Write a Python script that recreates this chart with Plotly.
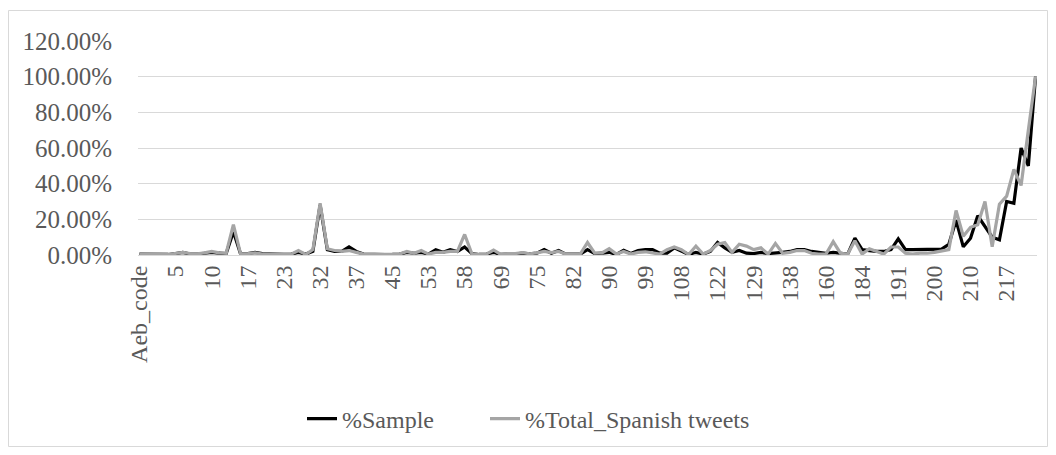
import plotly.graph_objects as go

codes = ["Aeb_code",
         "1", "2", "3", "4", "5",
         "6", "7", "8", "9", "10",
         "11", "12", "14", "16", "17",
         "18", "19", "20", "22", "23",
         "25", "27", "29", "30", "32",
         "33", "34", "35", "36", "37",
         "38", "40", "41", "43", "45",
         "46", "48", "50", "51", "53",
         "54", "55", "56", "57", "58",
         "60", "62", "64", "67", "69",
         "70", "71", "72", "74", "75",
         "76", "78", "79", "80", "82",
         "83", "85", "86", "88", "90",
         "91", "93", "95", "97", "99",
         "100", "102", "104", "106", "108",
         "110", "113", "116", "119", "122",
         "123", "124", "126", "127", "129",
         "130", "132", "134", "136", "138",
         "142", "147", "151", "155", "160",
         "165", "170", "175", "180", "184",
         "185", "186", "188", "189", "191",
         "193", "195", "197", "198", "200",
         "202", "204", "206", "208", "210",
         "211", "212", "214", "215", "217",
         "218", "219", "220", "221"]

tick_labels = ["Aeb_code", "5", "10", "17", "23", "32", "37", "45", "53", "58",
               "69", "75", "82", "90", "99", "108", "122", "129", "138", "160",
               "184", "191", "200", "210", "217"]

pct_sample = [0.5, 0.5, 0.7, 0.4, 0.3, 0.8, 1.5, 0.5, 0.5, 1.0, 1.5, 1.0, 0.8,
              13,
              0.5, 0.8, 1.5, 0.8, 0.5, 0.3, 0.3, 0.5, 1.5, 0.5, 2.0,
              28,
              3, 2, 2, 4.5, 2, 0.5, 0.3, 0.3, 0.2, 0.3, 0.5,
              1.5, 1, 1.5, 0.5, 3, 1.5, 3, 2,
              4.5,
              0.8, 0.3, 0.5, 1.5, 0.3, 0.5, 0.5, 1, 0.7, 1, 3, 1, 2.5, 0.5, 0.5, 0.5,
              3, 0.8, 1, 1.5, 0.3, 2.6, 0.8, 2.5, 3, 3, 1, 1, 4, 2, 0.3, 1.5, 0.5, 2,
              7, 4, 1.5, 2.5, 1, 0.8, 1.5, 0.8, 1, 1.5,
              2, 3, 3, 2, 1.5, 1, 1.5, 1, 0.5, 9.5,
              3, 2.5, 2, 2, 3, 9, 3, 3, 3, 3, 3, 3.3, 6,
              19.5, 4.6, 9.4, 22, 15.6, 10, 8.5, 30, 29, 60, 50, 100]

pct_total = [0.5, 0.5, 0.8, 0.5, 0.3, 0.8, 1.5, 0.8, 0.6, 1.2, 2, 1.2, 1,
             17,
             0.5, 0.8, 1.2, 0.5, 0.5, 0.3, 0.3, 0.5, 2.5, 0.3, 3,
             29,
             3.5, 2.5, 2, 2.5, 1.5, 0.5, 0.3, 0.3, 0.3, 0.4, 0.5,
             2, 1, 2.5, 0.5, 1.5, 1.5, 2, 2,
             11.5,
             0.7, 0.3, 0.5, 2.8, 0.3, 0.8, 0.8, 1.3, 0.7, 1.2, 2, 1.3, 2, 0.5, 0.5, 0.5,
             7, 1, 1.2, 3.5, 0.5, 2, 0.5, 1.5, 1.8, 1, 0.5, 3, 4.5, 3, 0.3, 5, 0.5, 2.5,
             6, 7, 1.5, 6, 5, 3, 4, 0.5, 6.5, 1,
             1.5, 2.5, 2.5, 1, 0.5, 0.5, 7.5, 1, 0.5, 8,
             0.5, 3.5, 2, 0.5, 4.5, 4.5, 1, 0.5, 1, 1, 1.5, 2.4, 3,
             25, 10.5, 15.5, 17, 30, 4.6, 28.5, 33, 48, 39, 70, 100]

series_names = ["%Sample", "%Total_Spanish tweets"]
series_colors = ["#000000", "#A5A5A5"]
legend_ids = ["legend", "legend2"]

FONT = "Liberation Serif, serif"
TXT = "#595959"
GRID = "#D9D9D9"

# the page body has an 8px margin, so work in page pixels and shift by 8
OFF = 8
W, H = 1056 - OFF, 455 - OFF
L, T = 138 - OFF, 41 - OFF
R = W - (1037 - OFF)
B = H - (255 - OFF)
pw, ph = W - L - R, H - T - B

def px_x(x):
    return (x - OFF - L) / pw

def px_y(y):
    return (H - B - (y - OFF)) / ph

fig = go.Figure()
for name, vals, col, lg in zip(series_names, [pct_sample, pct_total], series_colors, legend_ids):
    fig.add_trace(go.Scatter(x=codes, y=vals, mode="lines", name=name, legend=lg,
                             line=dict(color=col, width=3.2)))

fig.add_shape(type="rect", xref="paper", yref="paper",
              x0=px_x(8.5), x1=px_x(1047.5), y0=px_y(446.5), y1=px_y(10.5),
              line=dict(color=GRID, width=1), fillcolor="rgba(0,0,0,0)", layer="below")

leg_common = dict(orientation="h", xanchor="left", yanchor="middle", y=px_y(419),
                  font=dict(family=FONT, size=24, color=TXT), bgcolor="rgba(0,0,0,0)")

fig.update_layout(
    width=W, height=H,
    margin=dict(l=L, r=R, t=T, b=B, autoexpand=False),
    paper_bgcolor="white", plot_bgcolor="white",
    font=dict(family=FONT, size=24, color=TXT),
    showlegend=True,
    legend=dict(x=px_x(302), **leg_common),
    legend2=dict(x=px_x(485), **leg_common),
    xaxis=dict(type="category", range=[-0.2, 124.2],
               tickmode="array", tickvals=tick_labels, ticktext=tick_labels,
               tickangle=-90, showgrid=False, showline=True, linecolor=GRID,
               linewidth=1, ticks="", ticklabelstandoff=0,
               tickfont=dict(family=FONT, size=24, color=TXT)),
    yaxis=dict(range=[0, 120], dtick=20, tickformat=".2f", ticksuffix="%",
               showgrid=True, gridcolor=GRID, gridwidth=1, zeroline=False,
               showline=False, ticks="", ticklabelstandoff=25,
               tickfont=dict(family=FONT, size=25, color=TXT)),
)

fig.write_html("out.html")
